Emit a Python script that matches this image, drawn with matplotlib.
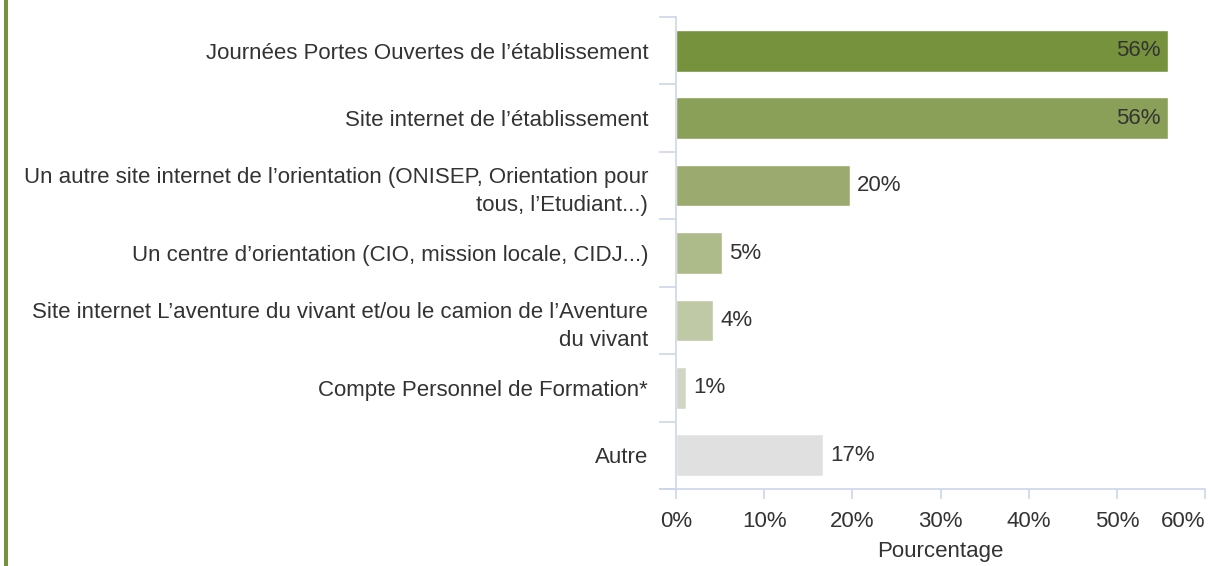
import numpy as np
import matplotlib.pyplot as plt
from matplotlib.patches import Rectangle

# Sources d'information (pourcentages)
categories = [
    "Journées Portes Ouvertes de l’établissement",
    "Site internet de l’établissement",
    "Un autre site internet de l’orientation (ONISEP, Orientation pour\ntous, l’Etudiant...)",
    "Un centre d’orientation (CIO, mission locale, CIDJ...)",
    "Site internet L’aventure du vivant et/ou le camion de l’Aventure\ndu vivant",
    "Compte Personnel de Formation*",
    "Autre",
]
values = [55.8, 55.8, 19.7, 5.2, 4.2, 1.1, 16.7]
value_labels = ["56%", "56%", "20%", "5%", "4%", "1%", "17%"]
colors = ["#76923c", "#8aa058", "#9bab6f", "#adbb8a", "#c0c9a6", "#d1d5c4", "#e0e0e0"]
xticks = [0, 10, 20, 30, 40, 50, 60]

plt.rcParams['font.family'] = ['Liberation Sans', 'DejaVu Sans']
text_color = "#333333"
axis_color = "#ccd6eb"
fs = 16

fig = plt.figure(figsize=(12.14, 5.66), dpi=100)
ax = fig.add_axes([676 / 1214, 1 - 489 / 566, (1205 - 676) / 1214, (489 - 17) / 566])

y = np.arange(len(categories))
ax.barh(y, values, height=0.62, color=colors, edgecolor="white", linewidth=1)

ax.set_xlim(0, 60)
ax.set_ylim(len(categories) - 0.5, -0.5)

# value labels
for i, (v, lab) in enumerate(zip(values, value_labels)):
    if v > 50:
        ax.text(v - 0.8, i, lab, ha="right", va="center", fontsize=fs, color=text_color)
    else:
        ax.text(v + 0.8, i, lab, ha="left", va="center", fontsize=fs, color=text_color)

# y axis: category separators as ticks, labels in the middle
ax.set_yticks(np.arange(-0.5, len(categories), 1.0))
ax.set_yticklabels([])
ax.set_yticks(y, minor=True)
ax.set_yticklabels(categories, minor=True, fontsize=fs, color=text_color, ha="right",
                   linespacing=1.45)
ax.tick_params(axis="y", which="major", length=12, width=1.2, color=axis_color)
ax.tick_params(axis="y", which="minor", length=0, pad=20)

# x axis
ax.set_xticks(xticks)
ax.set_xticklabels([f"{t}%" for t in xticks], fontsize=fs, color=text_color)
ax.tick_params(axis="x", length=7, width=1.2, color=axis_color, pad=9)
ax.get_xticklabels()[-1].set_horizontalalignment("right")
ax.set_xlabel("Pourcentage", fontsize=fs, color=text_color, labelpad=6)

for side in ["top", "right"]:
    ax.spines[side].set_visible(False)
for side in ["left", "bottom"]:
    ax.spines[side].set_color(axis_color)
    ax.spines[side].set_linewidth(1.2)
ax.spines["bottom"].set_bounds(-1.8, 60)

# green bar on the left edge
fig.add_artist(Rectangle((4 / 1214, 0), 3.5 / 1214, 1, transform=fig.transFigure,
                         color="#76923c", linewidth=0))

fig.savefig("out.png", dpi=100)
